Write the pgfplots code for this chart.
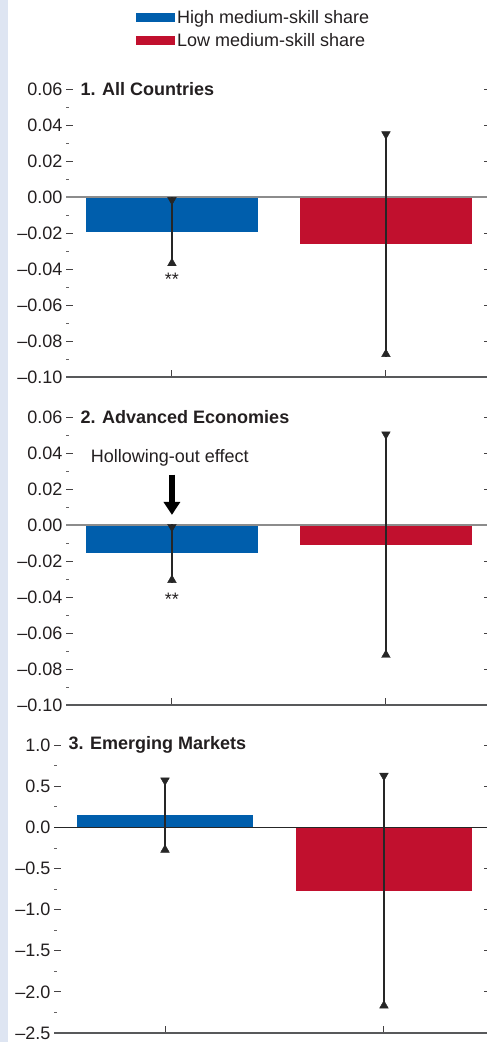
\documentclass[border=0pt]{standalone}
\usepackage{pgfplots}
\pgfplotsset{compat=1.18}
\usepackage{pgfplotstable}
\usepackage{fontspec}
\setmainfont{Liberation Sans}
\usetikzlibrary{arrows.meta}
\definecolor{imfblue}{RGB}{0,94,172}
\definecolor{imfred}{RGB}{193,16,46}
\definecolor{txt}{RGB}{35,31,32}
\definecolor{axisgray}{RGB}{88,89,91}
\definecolor{zerogray}{RGB}{140,140,140}
\definecolor{strip}{RGB}{222,229,242}

% x: category position, y: estimate, e: half-width of the confidence band
\pgfplotstableread{
x y e
0 -0.0192 0.0190
1 -0.0262 0.0625
}\panelA
\pgfplotstableread{
x y e
0 -0.0158 0.0162
1 -0.0109 0.0627
}\panelB
\pgfplotstableread{
x y e
0 0.148 0.452
1 -0.770 1.428
}\panelC

\newcommand{\fs}{\fontsize{18}{21}\selectfont}

\pgfplotsset{
  panel/.style={
    scale only axis, clip=false,
    axis x line*=bottom,
    x axis line style={axisgray, line width=1.6pt, -},
    y axis line style={draw=none},
    tick align=inside,
    major tick length=7pt, minor tick length=3pt,
    every tick/.style={txt!85, line width=0.9pt},
    every minor tick/.style={txt!70, line width=0.7pt},
    xtick={0,1}, xticklabels={},
    ticklabel style={font=\fs, text=txt},
  },
  bluebar/.style={ybar, bar shift=0pt, bar width=0.804, fill=imfblue, draw=none,
    legend image code/.code={\fill[imfblue] (0pt,-4.5pt) rectangle (39pt,4.5pt);}},
  redbar/.style={ybar, bar shift=0pt, bar width=0.804, fill=imfred, draw=none,
    legend image code/.code={\fill[imfred] (0pt,-4.5pt) rectangle (39pt,4.5pt);}},
  whisker/.style={draw=none, mark=none, forget plot,
    error bars/.cd, y dir=both, y explicit, error mark=none,
    error bar style={draw=black!85, line width=1.3pt}},
  tipup/.style={only marks, mark=triangle*, mark size=5pt, color=black!85, forget plot,
    mark options={yshift=2.5pt}},
  tipdown/.style={only marks, mark=triangle*, mark size=5pt, color=black!85, forget plot,
    mark options={yshift=-2.5pt, rotate=180}},
}

\begin{document}
\begin{tikzpicture}
\path[use as bounding box] (0,0) rectangle (487pt,1042pt);
\fill[strip] (0,0) rectangle (7.5pt,1042pt);

% ---------- Panel 1 ----------
\begin{axis}[panel, at={(66pt,665pt)}, anchor=south west,
  width=425pt, height=288pt,
  xmin=-0.495, xmax=1.491, ymin=-0.10, ymax=0.06,
  ytick={-0.10,-0.08,-0.06,-0.04,-0.02,0,0.02,0.04,0.06},
  yticklabels={–0.10,–0.08,–0.06,–0.04,–0.02,0.00,0.02,0.04,0.06},
  minor ytick={-0.09,-0.07,-0.05,-0.03,-0.01,0.01,0.03,0.05},
  legend style={at={(axis description cs:0.1647,1.278)}, anchor=north west,
    draw=none, fill=none, font=\fs, text=txt, inner sep=0pt, row sep=6.5pt,
    cells={anchor=west}, nodes={inner xsep=2pt, inner ysep=1pt}},
]
\addplot[bluebar] table[x=x, y=y, skip coords between index={1}{2}] {\panelA};
\addlegendentry{High medium-skill share}
\addplot[redbar] table[x=x, y=y, skip coords between index={0}{1}] {\panelA};
\addlegendentry{Low medium-skill share}
\draw[zerogray, line width=1.4pt] (axis cs:-0.495,0) -- (axis cs:1.491,0);
\addplot[whisker] table[x=x, y=y, y error=e] {\panelA};
\addplot[tipup] table[x=x, y expr=\thisrow{y}-\thisrow{e}] {\panelA};
\addplot[tipdown] table[x=x, y expr=\thisrow{y}+\thisrow{e}] {\panelA};
\node[anchor=west, xshift=11pt, font=\fs\bfseries, text=txt] at (rel axis cs:0,1) {1. All Countries};
\node[anchor=base, font=\fs, text=txt] at (axis cs:0,-0.0492) {**};
\end{axis}

% ---------- Panel 2 ----------
\begin{axis}[panel, at={(66pt,337pt)}, anchor=south west,
  width=425pt, height=288pt,
  xmin=-0.495, xmax=1.491, ymin=-0.10, ymax=0.06,
  ytick={-0.10,-0.08,-0.06,-0.04,-0.02,0,0.02,0.04,0.06},
  yticklabels={–0.10,–0.08,–0.06,–0.04,–0.02,0.00,0.02,0.04,0.06},
  minor ytick={-0.09,-0.07,-0.05,-0.03,-0.01,0.01,0.03,0.05},
]
\addplot[bluebar] table[x=x, y=y, skip coords between index={1}{2}] {\panelB};
\addplot[redbar] table[x=x, y=y, skip coords between index={0}{1}] {\panelB};
\draw[zerogray, line width=1.4pt] (axis cs:-0.495,0) -- (axis cs:1.491,0);
\addplot[whisker] table[x=x, y=y, y error=e] {\panelB};
\addplot[tipup] table[x=x, y expr=\thisrow{y}-\thisrow{e}] {\panelB};
\addplot[tipdown] table[x=x, y expr=\thisrow{y}+\thisrow{e}] {\panelB};
\node[anchor=west, xshift=11pt, font=\fs\bfseries, text=txt] at (rel axis cs:0,1) {2. Advanced Economies};
\node[font=\fs, text=txt] at (axis cs:-0.01,0.0372) {Hollowing-out effect};
\draw[black, line width=5.5pt, -{Triangle[width=16pt,length=13pt]}] (axis cs:0,0.0280) -- (axis cs:0,0.0056);
\node[anchor=base, font=\fs, text=txt] at (axis cs:0,-0.0448) {**};
\end{axis}

% ---------- Panel 3 ----------
\begin{axis}[panel, at={(54pt,9pt)}, anchor=south west,
  width=437pt, height=288pt,
  xmin=-0.507, xmax=1.489, ymin=-2.5, ymax=1.0,
  ytick={-2.5,-2,-1.5,-1,-0.5,0,0.5,1},
  yticklabels={–2.5,–2.0,–1.5,–1.0,–0.5,0.0,0.5,1.0},
  minor ytick={-2.25,-1.75,-1.25,-0.75,-0.25,0.25,0.75},
]
\addplot[bluebar] table[x=x, y=y, skip coords between index={1}{2}] {\panelC};
\addplot[redbar] table[x=x, y=y, skip coords between index={0}{1}] {\panelC};
\draw[black!85, line width=1.3pt] (axis cs:-0.507,0) -- (axis cs:1.489,0);
\addplot[whisker] table[x=x, y=y, y error=e] {\panelC};
\addplot[tipup] table[x=x, y expr=\thisrow{y}-\thisrow{e}] {\panelC};
\addplot[tipdown] table[x=x, y expr=\thisrow{y}+\thisrow{e}] {\panelC};
\node[anchor=west, xshift=11pt, font=\fs\bfseries, text=txt] at (rel axis cs:0,1) {3. Emerging Markets};
\end{axis}
\end{tikzpicture}
\end{document}
